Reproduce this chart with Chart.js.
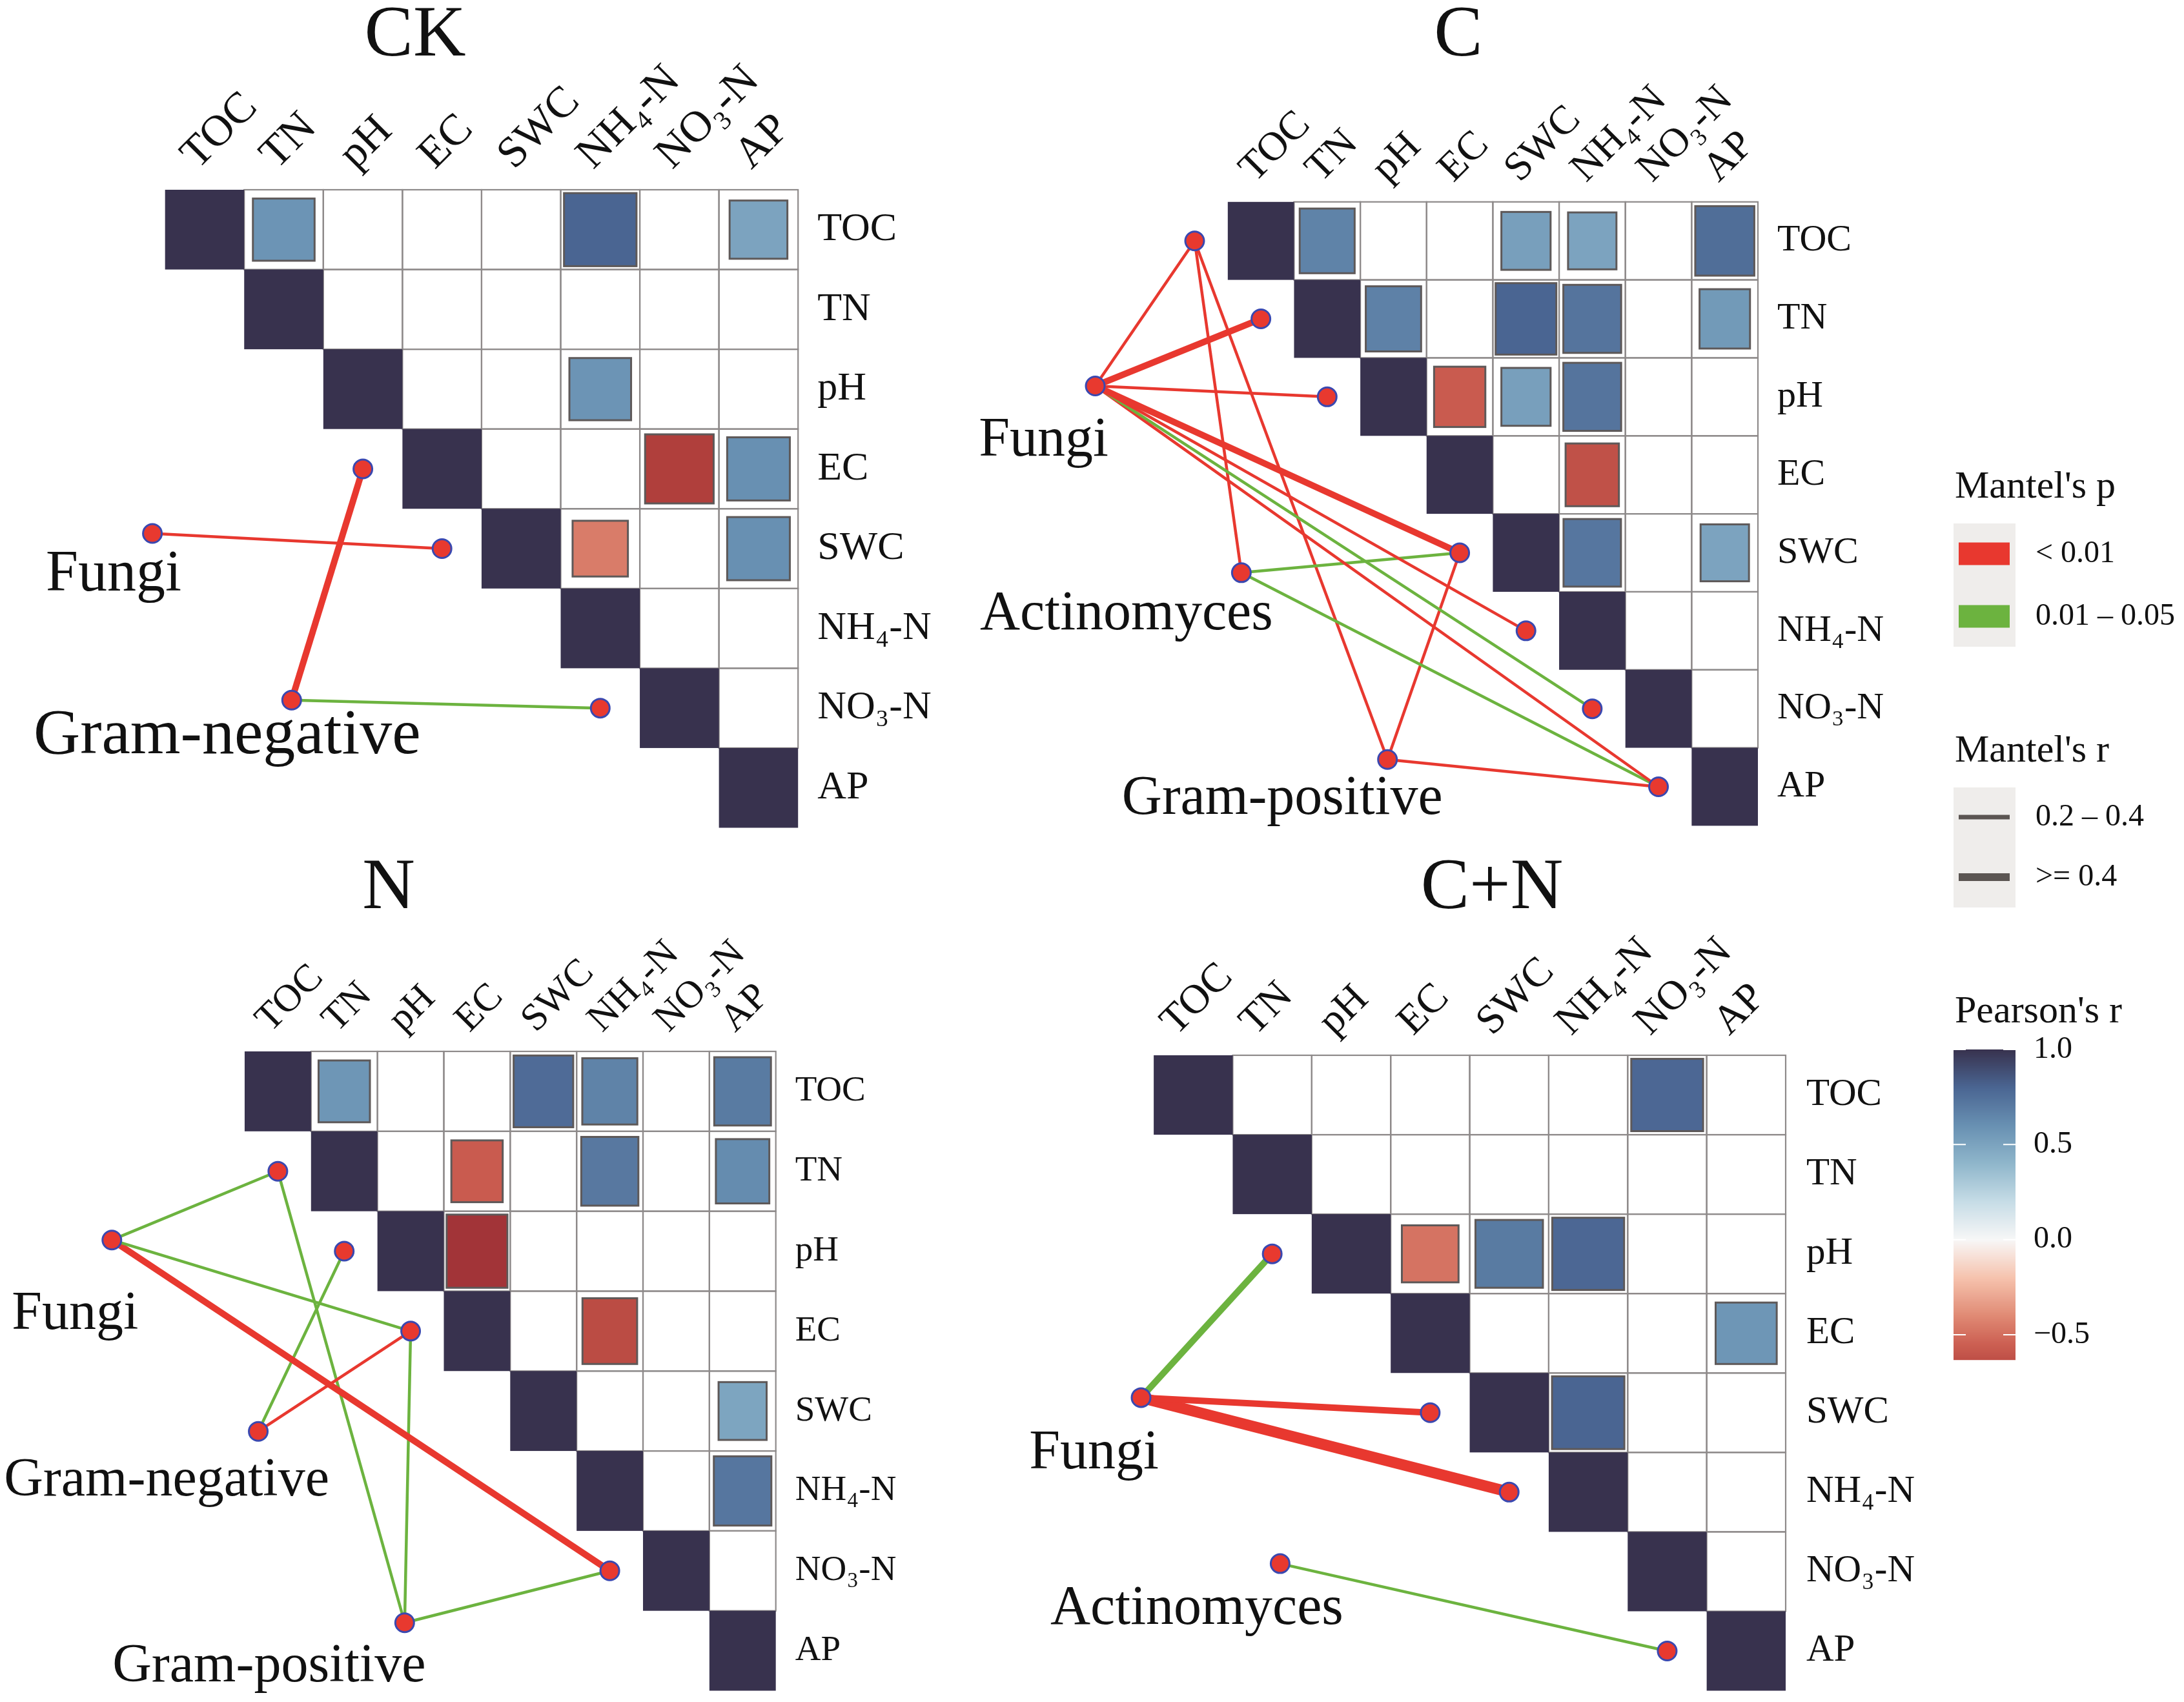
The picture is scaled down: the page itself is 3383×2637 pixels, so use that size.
<!DOCTYPE html>
<html>
<head>
<meta charset="utf-8">
<script src="https://cdn.jsdelivr.net/npm/chart.js@4.4.1/dist/chart.umd.min.js"></script>
<style>
html,body{margin:0;padding:0;background:#fff;overflow:hidden;width:3383px;height:2637px;position:relative;}
canvas{position:absolute;}
</style>
</head>
<body>
<canvas id="pCK"></canvas>
<canvas id="pC"></canvas>
<canvas id="pN"></canvas>
<canvas id="pCN"></canvas>
<canvas id="legend"></canvas>
<script>
// ---------------- DATA ----------------
const variables = ['TOC', 'TN', 'pH', 'EC', 'SWC', 'NH₄-N', 'NO₃-N', 'AP'];
const panelTitles = ['CK', 'C', 'N', 'C+N'];

const speciesCK = ['Fungi', 'Gram-negative'];
const speciesC  = ['Fungi', 'Actinomyces', 'Gram-positive'];
const speciesN  = ['Fungi', 'Gram-negative', 'Gram-positive'];
const speciesCN = ['Fungi', 'Actinomyces'];

// Pearson's r between soil variables: [row variable, column variable, r]
const pearsonCK = [
  ['TOC', 'TN', 0.58], ['TOC', 'NH₄-N', 0.80], ['TOC', 'AP', 0.50],
  ['pH', 'NH₄-N', 0.58],
  ['EC', 'NO₃-N', -0.72], ['EC', 'AP', 0.60],
  ['SWC', 'NH₄-N', -0.45], ['SWC', 'AP', 0.60]
];
const pearsonC = [
  ['TOC', 'TN', 0.66], ['TOC', 'SWC', 0.52], ['TOC', 'NH₄-N', 0.50], ['TOC', 'AP', 0.76],
  ['TN', 'pH', 0.67], ['TN', 'SWC', 0.80], ['TN', 'NH₄-N', 0.73], ['TN', 'AP', 0.55],
  ['pH', 'EC', -0.57], ['pH', 'SWC', 0.52], ['pH', 'NH₄-N', 0.73],
  ['EC', 'NH₄-N', -0.62],
  ['SWC', 'NH₄-N', 0.72], ['SWC', 'AP', 0.50]
];
const pearsonN = [
  ['TOC', 'TN', 0.57], ['TOC', 'SWC', 0.77], ['TOC', 'NH₄-N', 0.66], ['TOC', 'AP', 0.70],
  ['TN', 'EC', -0.57], ['TN', 'NH₄-N', 0.71], ['TN', 'AP', 0.62],
  ['pH', 'EC', -0.80],
  ['EC', 'NH₄-N', -0.65],
  ['SWC', 'AP', 0.49],
  ['NH₄-N', 'AP', 0.72]
];
const pearsonCN = [
  ['TOC', 'NO₃-N', 0.79],
  ['pH', 'EC', -0.48], ['pH', 'SWC', 0.70], ['pH', 'NH₄-N', 0.79],
  ['EC', 'AP', 0.57],
  ['SWC', 'NH₄-N', 0.80]
];

// Mantel tests: [species, variable, Mantel's p class, Mantel's r]
const pClasses = ['< 0.01', '0.01 – 0.05'];
const rClasses = ['0.2 – 0.4', '>= 0.4'];
const mantelCK = [
  ['Fungi', 'SWC', '< 0.01', 0.30],
  ['Gram-negative', 'EC', '< 0.01', 0.45],
  ['Gram-negative', 'NO₃-N', '0.01 – 0.05', 0.30]
];
const mantelC = [
  ['Fungi', 'TOC', '< 0.01', 0.30], ['Fungi', 'TN', '< 0.01', 0.45], ['Fungi', 'pH', '< 0.01', 0.30],
  ['Fungi', 'SWC', '< 0.01', 0.45], ['Fungi', 'NH₄-N', '< 0.01', 0.30], ['Fungi', 'NO₃-N', '0.01 – 0.05', 0.30],
  ['Fungi', 'AP', '< 0.01', 0.30],
  ['Actinomyces', 'TOC', '< 0.01', 0.30], ['Actinomyces', 'SWC', '0.01 – 0.05', 0.30], ['Actinomyces', 'AP', '0.01 – 0.05', 0.30],
  ['Gram-positive', 'TOC', '< 0.01', 0.30], ['Gram-positive', 'SWC', '< 0.01', 0.30], ['Gram-positive', 'AP', '< 0.01', 0.30]
];
const mantelN = [
  ['Fungi', 'TN', '0.01 – 0.05', 0.30], ['Fungi', 'EC', '0.01 – 0.05', 0.30], ['Fungi', 'NO₃-N', '< 0.01', 0.45],
  ['Gram-negative', 'pH', '0.01 – 0.05', 0.30], ['Gram-negative', 'EC', '< 0.01', 0.30],
  ['Gram-positive', 'TN', '0.01 – 0.05', 0.30], ['Gram-positive', 'EC', '0.01 – 0.05', 0.30], ['Gram-positive', 'NO₃-N', '0.01 – 0.05', 0.30]
];
const mantelCN = [
  ['Fungi', 'pH', '0.01 – 0.05', 0.45], ['Fungi', 'SWC', '< 0.01', 0.45], ['Fungi', 'NH₄-N', '< 0.01', 0.70],
  ['Actinomyces', 'AP', '0.01 – 0.05', 0.30]
];

const pearsonTicks = [1.0, 0.5, 0.0, -0.5];
const pearsonTickLabels = ['1.0', '0.5', '0.0', '−0.5'];
const pearsonRange = [-0.632, 1.0];

// ---------------- STYLE / LAYOUT ----------------
const FONT = '"Liberation Serif", "Times New Roman", serif';
Chart.defaults.font.family = FONT;
const RED = '#e8382f', GREEN = '#6cb33f';
const GRID_COLOR = '#8e8a8a', SQUARE_EDGE = '#5e5959';
const cmapStops = [
  [-0.85, [154, 45, 53]], [-0.70, [179, 66, 61]], [-0.55, [204, 95, 82]], [-0.40, [224, 138, 116]],
  [-0.20, [246, 195, 174]], [0.00, [247, 247, 247]], [0.20, [198, 220, 230]], [0.40, [143, 182, 203]],
  [0.60, [104, 144, 178]], [0.80, [74, 101, 146]], [1.00, [56, 50, 78]]
];
function cmap(r) {
  if (r <= cmapStops[0][0]) return 'rgb(' + cmapStops[0][1].join(',') + ')';
  for (let i = 1; i < cmapStops.length; i++) {
    if (r <= cmapStops[i][0]) {
      const [a, ca] = cmapStops[i - 1], [b, cb] = cmapStops[i];
      const t = (r - a) / (b - a);
      return 'rgb(' + ca.map((c, k) => Math.round(c + (cb[k] - c) * t)).join(',') + ')';
    }
  }
  return 'rgb(' + cmapStops[cmapStops.length - 1][1].join(',') + ')';
}
const sizeFor = r => Math.min(0.95, 0.42 + 0.62 * Math.abs(r));
const widthForR = r => r < 0.4 ? 4.5 : 10 + (r - 0.45) * 28;

// node layout (cell units) for 2 or 3 species
const nodeLayout = {
  2: { start: [-0.16, 4.31], step: [1.76, 2.09] },
  3: { start: [-2.0, 2.36], step: [2.205, 2.395] }
};

const panelLayout = {
  CK: { canvas: [0, 0, 1480, 1300], grid: [241.6, 294, 1236.2, 1285], tickFont: 62, colFont: 68, colShift: 34, xPad: 14, yPad: 30,
        titleFont: 113, title: [643, 86], speciesFont: [90, 100], labelOffsets: [[-60, 88], [-100, 82]] },
  C:  { canvas: [1490, 0, 1510, 1300], grid: [1890, 312.8, 2723, 1279.4], tickFont: 58, colFont: 63, colShift: 32, xPad: 14, yPad: 30,
        titleFont: 113, title: [2259, 86], speciesFont: [86, 86, 86], labelOffsets: [[-80, 108], [-178, 88], [-163, 84]] },
  N:  { canvas: [0, 1300, 1480, 1337], grid: [366.8, 1629, 1201.7, 2628], tickFont: 55, colFont: 60, colShift: 28, xPad: 14, yPad: 30,
        titleFont: 113, title: [602, 1407], speciesFont: [84, 84, 84], labelOffsets: [[-57, 138], [-142, 99], [-210, 91]] },
  CN: { canvas: [1490, 1300, 1510, 1337], grid: [1773.5, 1635, 2766, 2629], tickFont: 59, colFont: 64, colShift: 16, xPad: 14, yPad: 32,
        titleFont: 113, title: [2311, 1407], speciesFont: [86, 86], labelOffsets: [[-73, 110], [-129, 93]] }
};

function placeCanvas(id, box) {
  const c = document.getElementById(id);
  const [l, t, w, h] = box;
  c.width = w; c.height = h;
  c.style.left = l + 'px'; c.style.top = t + 'px';
  c.style.width = w + 'px'; c.style.height = h + 'px';
  return c;
}

function makePanel(id, title, species, pearson, mantel, L) {
  const canvas = placeCanvas(id, L.canvas);
  const [cl, ct, cw, ch] = L.canvas;
  const [gl, gt, gr, gb] = L.grid;
  const n = variables.length;
  const cellW = (gr - gl) / n;
  const xMin = -(gl - cl) / cellW;
  const topH = gt - ct, rightW = cl + cw - gr, botPad = ct + ch - gb;
  const nl = nodeLayout[species.length];
  const nodePos = k => ({ x: nl.start[0] + k * nl.step[0], y: nl.start[1] + k * nl.step[1] });
  const endPos = v => { const i = variables.indexOf(v); return { x: i - 0.5, y: i + 0.5 }; };

  const datasets = [];
  const usedVars = [];
  mantel.forEach(([sp, v, p, r]) => {
    if (!usedVars.includes(v)) usedVars.push(v);
    datasets.push({
      label: sp + ' – ' + v,
      data: [nodePos(species.indexOf(sp)), endPos(v)],
      showLine: true, borderColor: p === pClasses[0] ? RED : GREEN,
      borderWidth: widthForR(r), pointRadius: 0, pointHoverRadius: 0,
      order: 2, clip: false
    });
  });
  datasets.push({
    label: 'nodes',
    data: species.map((s, k) => nodePos(k)).concat(usedVars.map(endPos)),
    pointRadius: 14.5, pointHoverRadius: 14.5, backgroundColor: '#e8392f',
    borderColor: '#3a48b0', borderWidth: 3, order: 0, clip: false
  });

  const centerTicks = s => { s.ticks = variables.map((v, i) => ({ value: i + 0.5 })); };

  const panelPlugin = {
    id: 'panel_' + id,
    beforeDatasetsDraw(chart) {
      const { ctx } = chart; const { x, y } = chart.scales;
      const px = v => x.getPixelForValue(v), py = v => y.getPixelForValue(v);
      ctx.save();
      ctx.strokeStyle = GRID_COLOR; ctx.lineWidth = 2.2;
      for (let i = 0; i < n; i++) for (let j = i + 1; j < n; j++) {
        ctx.strokeRect(px(j), py(i), px(j + 1) - px(j), py(i + 1) - py(i));
      }
      ctx.fillStyle = cmap(1);
      for (let i = 0; i < n; i++) ctx.fillRect(px(i), py(i), px(i + 1) - px(i), py(i + 1) - py(i));
      pearson.forEach(([a, b, r]) => {
        const i = variables.indexOf(a), j = variables.indexOf(b);
        const f = sizeFor(r);
        const w = (px(j + 1) - px(j)) * f, h = (py(i + 1) - py(i)) * f;
        const cx = px(j + 0.5), cy = py(i + 0.5);
        ctx.fillStyle = cmap(r);
        ctx.fillRect(cx - w / 2, cy - h / 2, w, h);
        ctx.strokeStyle = SQUARE_EDGE; ctx.lineWidth = 3;
        ctx.strokeRect(cx - w / 2, cy - h / 2, w, h);
      });
      ctx.restore();
    },
    afterDatasetsDraw(chart) {
      const { ctx } = chart; const { x, y } = chart.scales;
      ctx.save();
      ctx.fillStyle = '#111'; ctx.textAlign = 'center'; ctx.textBaseline = 'alphabetic';
      species.forEach((s, k) => {
        const p = nodePos(k);
        ctx.font = L.speciesFont[k] + 'px ' + FONT;
        ctx.fillText(s, x.getPixelForValue(p.x) + L.labelOffsets[k][0], y.getPixelForValue(p.y) + L.labelOffsets[k][1]);
      });
      ctx.font = L.titleFont + 'px ' + FONT;
      ctx.fillText(title, L.title[0] - cl, L.title[1] - ct);
      ctx.restore();
    }
  };

  return new Chart(canvas, {
    type: 'scatter',
    data: { datasets },
    options: {
      responsive: false, animation: false, events: [], devicePixelRatio: 1,
      layout: { padding: { left: 0, top: 0, right: 0, bottom: botPad } },
      plugins: { legend: { display: false }, tooltip: { enabled: false }, title: { display: false } },
      scales: {
        x: {
          type: 'linear', position: 'top', min: xMin, max: n, bounds: 'data',
          grid: { display: false, drawTicks: false }, border: { display: false },
          afterBuildTicks: centerTicks,
          afterFit: s => { s.height = topH; s.paddingLeft = 0; s.paddingRight = 0; },
          ticks: { autoSkip: false, minRotation: 45, maxRotation: 45, padding: L.xPad, labelOffset: L.colShift,
                   color: '#111', font: { size: L.colFont, family: FONT }, callback: v => variables[Math.floor(v)] }
        },
        y: {
          type: 'linear', position: 'right', min: 0, max: n, reverse: true, bounds: 'data',
          grid: { display: false, drawTicks: false }, border: { display: false },
          afterBuildTicks: centerTicks,
          afterFit: s => { s.width = rightW; s.paddingTop = 0; s.paddingBottom = 0; },
          ticks: { autoSkip: false, padding: L.yPad, color: '#111', font: { size: L.tickFont, family: FONT },
                   callback: v => variables[Math.floor(v)] }
        }
      }
    },
    plugins: [panelPlugin]
  });
}

makePanel('pCK', panelTitles[0], speciesCK, pearsonCK, mantelCK, panelLayout.CK);
makePanel('pC',  panelTitles[1], speciesC,  pearsonC,  mantelC,  panelLayout.C);
makePanel('pN',  panelTitles[2], speciesN,  pearsonN,  mantelN,  panelLayout.N);
makePanel('pCN', panelTitles[3], speciesCN, pearsonCN, mantelCN, panelLayout.CN);

// ---------------- LEGEND ----------------
const legendBox = [3000, 650, 383, 1500];
const legendCanvas = placeCanvas('legend', legendBox);
const legendPlugin = {
  id: 'mantelLegend',
  afterDraw(chart) {
    const ctx = chart.ctx;
    const ox = legendBox[0], oy = legendBox[1];
    const X = v => v - ox, Y = v => v - oy;
    ctx.save();
    ctx.fillStyle = '#111'; ctx.textAlign = 'left';
    // Mantel's p
    ctx.font = '60px ' + FONT; ctx.textBaseline = 'alphabetic';
    ctx.fillText("Mantel's p", X(3028), Y(771));
    ctx.fillStyle = '#efedeb'; ctx.fillRect(X(3026), Y(811), 96, 191);
    [RED, GREEN].forEach((c, k) => {
      const cy = [858, 955][k];
      ctx.fillStyle = c; ctx.fillRect(X(3034), Y(cy - 17.5), 79, 35);
      ctx.fillStyle = '#111'; ctx.font = '48px ' + FONT; ctx.textBaseline = 'middle';
      ctx.fillText(pClasses[k], X(3153), Y(cy));
    });
    // Mantel's r
    ctx.font = '60px ' + FONT; ctx.textBaseline = 'alphabetic';
    ctx.fillText("Mantel's r", X(3028), Y(1180));
    ctx.fillStyle = '#efedeb'; ctx.fillRect(X(3026), Y(1220), 96, 186);
    [[1266, widthForR(0.3) + 2.5], [1359, widthForR(0.45) + 2]].forEach(([cy, w], k) => {
      ctx.strokeStyle = '#5b5552'; ctx.lineWidth = w;
      ctx.beginPath(); ctx.moveTo(X(3034), Y(cy)); ctx.lineTo(X(3113), Y(cy)); ctx.stroke();
      ctx.fillStyle = '#111'; ctx.font = '48px ' + FONT; ctx.textBaseline = 'middle';
      ctx.fillText(rClasses[k], X(3153), Y(cy));
    });
    // Pearson's r colour bar
    ctx.font = '60px ' + FONT; ctx.textBaseline = 'alphabetic'; ctx.fillStyle = '#111';
    ctx.fillText("Pearson's r", X(3028), Y(1584));
    const top = 1626, pxPerUnit = 294.7;
    const bottom = top + (pearsonRange[1] - pearsonRange[0]) * pxPerUnit;
    for (let py = top; py < bottom; py++) {
      const r = pearsonRange[1] - (py - top + 0.5) / pxPerUnit;
      ctx.fillStyle = cmap(r);
      ctx.fillRect(X(3026), Y(py), 96, 1.2);
    }
    pearsonTicks.forEach((t, k) => {
      const py = top + (pearsonRange[1] - t) * pxPerUnit;
      ctx.strokeStyle = '#fff'; ctx.lineWidth = 2;
      ctx.beginPath();
      ctx.moveTo(X(3026), Y(py)); ctx.lineTo(X(3045), Y(py));
      ctx.moveTo(X(3103), Y(py)); ctx.lineTo(X(3122), Y(py));
      ctx.stroke();
      ctx.fillStyle = '#111'; ctx.font = '48px ' + FONT; ctx.textBaseline = 'middle';
      ctx.fillText(pearsonTickLabels[k], X(3150), Y(py));
    });
    ctx.restore();
  }
};
new Chart(legendCanvas, {
  type: 'scatter',
  data: { datasets: [] },
  options: {
    responsive: false, animation: false, events: [], devicePixelRatio: 1,
    plugins: { legend: { display: false }, tooltip: { enabled: false } },
    scales: { x: { display: false }, y: { display: false } }
  },
  plugins: [legendPlugin]
});
</script>
</body>
</html>
